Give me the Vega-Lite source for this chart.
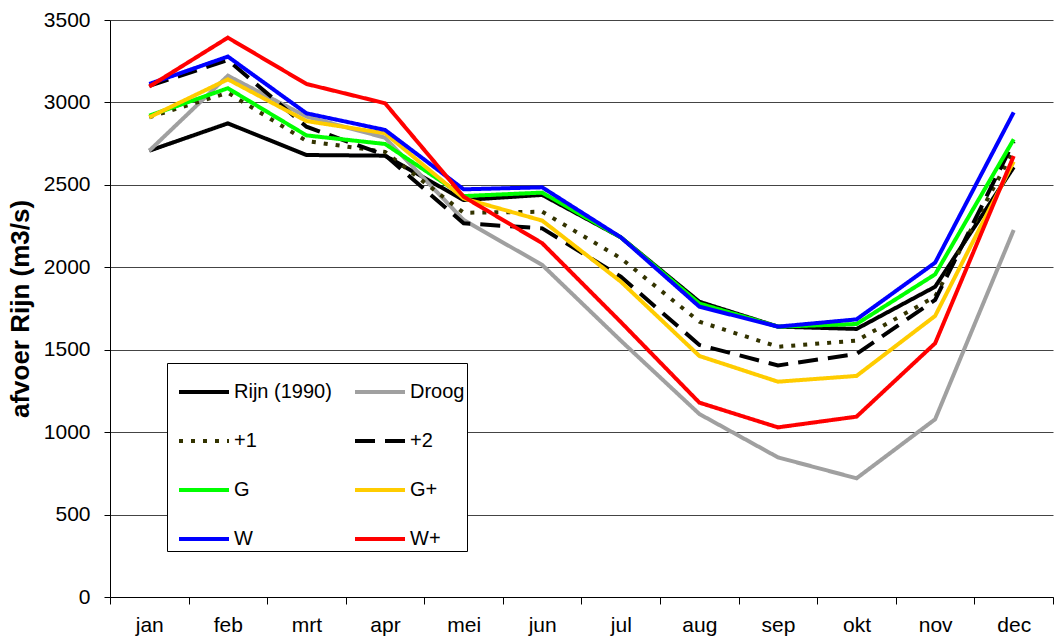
{
  "$schema": "https://vega.github.io/schema/vega-lite/v6.json",
  "width": 943,
  "height": 577,
  "autosize": {"type": "none"},
  "padding": {"left": 110, "top": 20, "right": 2, "bottom": 43},
  "background": "white",
  "config": {
    "font": "Liberation Sans",
    "view": {"stroke": null}
  },
  "data": {
    "values": [
      {"maand": "jan", "serie": "Rijn (1990)", "afvoer": 2707},
      {"maand": "feb", "serie": "Rijn (1990)", "afvoer": 2873},
      {"maand": "mrt", "serie": "Rijn (1990)", "afvoer": 2681},
      {"maand": "apr", "serie": "Rijn (1990)", "afvoer": 2677},
      {"maand": "mei", "serie": "Rijn (1990)", "afvoer": 2408},
      {"maand": "jun", "serie": "Rijn (1990)", "afvoer": 2439},
      {"maand": "jul", "serie": "Rijn (1990)", "afvoer": 2182},
      {"maand": "aug", "serie": "Rijn (1990)", "afvoer": 1791},
      {"maand": "sep", "serie": "Rijn (1990)", "afvoer": 1640},
      {"maand": "okt", "serie": "Rijn (1990)", "afvoer": 1626},
      {"maand": "nov", "serie": "Rijn (1990)", "afvoer": 1882},
      {"maand": "dec", "serie": "Rijn (1990)", "afvoer": 2607},
      {"maand": "jan", "serie": "Droog", "afvoer": 2707},
      {"maand": "feb", "serie": "Droog", "afvoer": 3162},
      {"maand": "mrt", "serie": "Droog", "afvoer": 2914},
      {"maand": "apr", "serie": "Droog", "afvoer": 2786},
      {"maand": "mei", "serie": "Droog", "afvoer": 2287},
      {"maand": "jun", "serie": "Droog", "afvoer": 2014},
      {"maand": "jul", "serie": "Droog", "afvoer": 1555},
      {"maand": "aug", "serie": "Droog", "afvoer": 1110},
      {"maand": "sep", "serie": "Droog", "afvoer": 847},
      {"maand": "okt", "serie": "Droog", "afvoer": 720},
      {"maand": "nov", "serie": "Droog", "afvoer": 1078},
      {"maand": "dec", "serie": "Droog", "afvoer": 2226},
      {"maand": "jan", "serie": "+1", "afvoer": 2910},
      {"maand": "feb", "serie": "+1", "afvoer": 3059},
      {"maand": "mrt", "serie": "+1", "afvoer": 2766},
      {"maand": "apr", "serie": "+1", "afvoer": 2700},
      {"maand": "mei", "serie": "+1", "afvoer": 2331},
      {"maand": "jun", "serie": "+1", "afvoer": 2337},
      {"maand": "jul", "serie": "+1", "afvoer": 2055},
      {"maand": "aug", "serie": "+1", "afvoer": 1670},
      {"maand": "sep", "serie": "+1", "afvoer": 1518},
      {"maand": "okt", "serie": "+1", "afvoer": 1555},
      {"maand": "nov", "serie": "+1", "afvoer": 1822},
      {"maand": "dec", "serie": "+1", "afvoer": 2710},
      {"maand": "jan", "serie": "+2", "afvoer": 3100},
      {"maand": "feb", "serie": "+2", "afvoer": 3257},
      {"maand": "mrt", "serie": "+2", "afvoer": 2853},
      {"maand": "apr", "serie": "+2", "afvoer": 2680},
      {"maand": "mei", "serie": "+2", "afvoer": 2267},
      {"maand": "jun", "serie": "+2", "afvoer": 2236},
      {"maand": "jul", "serie": "+2", "afvoer": 1943},
      {"maand": "aug", "serie": "+2", "afvoer": 1529},
      {"maand": "sep", "serie": "+2", "afvoer": 1405},
      {"maand": "okt", "serie": "+2", "afvoer": 1474},
      {"maand": "nov", "serie": "+2", "afvoer": 1802},
      {"maand": "dec", "serie": "+2", "afvoer": 2762},
      {"maand": "jan", "serie": "G", "afvoer": 2920},
      {"maand": "feb", "serie": "G", "afvoer": 3086},
      {"maand": "mrt", "serie": "G", "afvoer": 2800},
      {"maand": "apr", "serie": "G", "afvoer": 2748},
      {"maand": "mei", "serie": "G", "afvoer": 2432},
      {"maand": "jun", "serie": "G", "afvoer": 2453},
      {"maand": "jul", "serie": "G", "afvoer": 2182},
      {"maand": "aug", "serie": "G", "afvoer": 1780},
      {"maand": "sep", "serie": "G", "afvoer": 1640},
      {"maand": "okt", "serie": "G", "afvoer": 1656},
      {"maand": "nov", "serie": "G", "afvoer": 1957},
      {"maand": "dec", "serie": "G", "afvoer": 2776},
      {"maand": "jan", "serie": "G+", "afvoer": 2910},
      {"maand": "feb", "serie": "G+", "afvoer": 3140},
      {"maand": "mrt", "serie": "G+", "afvoer": 2887},
      {"maand": "apr", "serie": "G+", "afvoer": 2813},
      {"maand": "mei", "serie": "G+", "afvoer": 2418},
      {"maand": "jun", "serie": "G+", "afvoer": 2283},
      {"maand": "jul", "serie": "G+", "afvoer": 1913},
      {"maand": "aug", "serie": "G+", "afvoer": 1462},
      {"maand": "sep", "serie": "G+", "afvoer": 1306},
      {"maand": "okt", "serie": "G+", "afvoer": 1341},
      {"maand": "nov", "serie": "G+", "afvoer": 1705},
      {"maand": "dec", "serie": "G+", "afvoer": 2641},
      {"maand": "jan", "serie": "W", "afvoer": 3112},
      {"maand": "feb", "serie": "W", "afvoer": 3278},
      {"maand": "mrt", "serie": "W", "afvoer": 2934},
      {"maand": "apr", "serie": "W", "afvoer": 2833},
      {"maand": "mei", "serie": "W", "afvoer": 2473},
      {"maand": "jun", "serie": "W", "afvoer": 2485},
      {"maand": "jul", "serie": "W", "afvoer": 2182},
      {"maand": "aug", "serie": "W", "afvoer": 1761},
      {"maand": "sep", "serie": "W", "afvoer": 1640},
      {"maand": "okt", "serie": "W", "afvoer": 1684},
      {"maand": "nov", "serie": "W", "afvoer": 2028},
      {"maand": "dec", "serie": "W", "afvoer": 2940},
      {"maand": "jan", "serie": "W+", "afvoer": 3096},
      {"maand": "feb", "serie": "W+", "afvoer": 3393},
      {"maand": "mrt", "serie": "W+", "afvoer": 3112},
      {"maand": "apr", "serie": "W+", "afvoer": 2995},
      {"maand": "mei", "serie": "W+", "afvoer": 2428},
      {"maand": "jun", "serie": "W+", "afvoer": 2146},
      {"maand": "jul", "serie": "W+", "afvoer": 1668},
      {"maand": "aug", "serie": "W+", "afvoer": 1179},
      {"maand": "sep", "serie": "W+", "afvoer": 1029},
      {"maand": "okt", "serie": "W+", "afvoer": 1094},
      {"maand": "nov", "serie": "W+", "afvoer": 1539},
      {"maand": "dec", "serie": "W+", "afvoer": 2675}
    ]
  },
  "mark": {"type": "line", "strokeCap": "butt", "strokeJoin": "miter"},
  "encoding": {
    "x": {
      "field": "maand",
      "type": "nominal",
      "sort": ["jan", "feb", "mrt", "apr", "mei", "jun", "jul", "aug", "sep", "okt", "nov", "dec"],
      "bandPosition": 0.5,
      "scale": {"type": "band", "paddingInner": 0, "paddingOuter": 0},
      "axis": {
        "title": null,
        "labelAngle": 0,
        "labelFontSize": 21,
        "labelColor": "black",
        "labelPadding": 10,
        "tickBand": "extent",
        "tickSize": 7,
        "tickColor": "black",
        "domainColor": "black",
        "grid": false
      }
    },
    "y": {
      "field": "afvoer",
      "type": "quantitative",
      "scale": {"domain": [0, 3500], "nice": false},
      "axis": {
        "title": "afvoer Rijn (m3/s)",
        "titleFontSize": 26,
        "titleFontWeight": "bold",
        "titleColor": "black",
        "titlePadding": 10,
        "values": [0, 500, 1000, 1500, 2000, 2500, 3000, 3500],
        "format": "d",
        "labelFontSize": 21,
        "labelColor": "black",
        "labelPadding": 14,
        "tickSize": 6,
        "tickColor": "black",
        "domainColor": "black",
        "grid": true,
        "gridColor": "#444444",
        "gridWidth": 1
      }
    },
    "color": {
      "field": "serie",
      "type": "nominal",
      "sort": ["Rijn (1990)", "Droog", "+1", "+2", "G", "G+", "W", "W+"],
      "scale": {
        "domain": ["Rijn (1990)", "Droog", "+1", "+2", "G", "G+", "W", "W+"],
        "range": ["#000000", "#A0A0A0", "#333300", "#000000", "#00FF00", "#FFCC00", "#0000FF", "#FF0000"]
      },
      "legend": {
        "title": null,
        "orient": "none",
        "legendX": 57,
        "legendY": 343,
        "direction": "horizontal",
        "columns": 2,
        "gridAlign": "all",
        "columnPadding": 13,
        "rowPadding": 12,
        "padding": 2,
        "strokeColor": "black",
        "fillColor": "white",
        "symbolType": "stroke",
        "symbolSize": 2500,
        "symbolOffset": 8,
        "labelFontSize": 20,
        "labelColor": "black",
        "labelOffset": 3,
        "labelLimit": 300
      }
    },
    "strokeDash": {
      "field": "serie",
      "type": "nominal",
      "sort": ["Rijn (1990)", "Droog", "+1", "+2", "G", "G+", "W", "W+"],
      "scale": {
        "domain": ["Rijn (1990)", "Droog", "+1", "+2", "G", "G+", "W", "W+"],
        "range": [[1, 0], [1, 0], [4, 8], [20, 10], [1, 0], [1, 0], [1, 0], [1, 0]]
      },
      "legend": null
    },
    "strokeWidth": {
      "field": "serie",
      "type": "nominal",
      "sort": ["Rijn (1990)", "Droog", "+1", "+2", "G", "G+", "W", "W+"],
      "scale": {
        "domain": ["Rijn (1990)", "Droog", "+1", "+2", "G", "G+", "W", "W+"],
        "range": [4, 4, 2.5, 2.5, 2.5, 2.5, 2.5, 2.5]
      },
      "legend": null
    },
    "order": {"field": "serie"}
  }
}
